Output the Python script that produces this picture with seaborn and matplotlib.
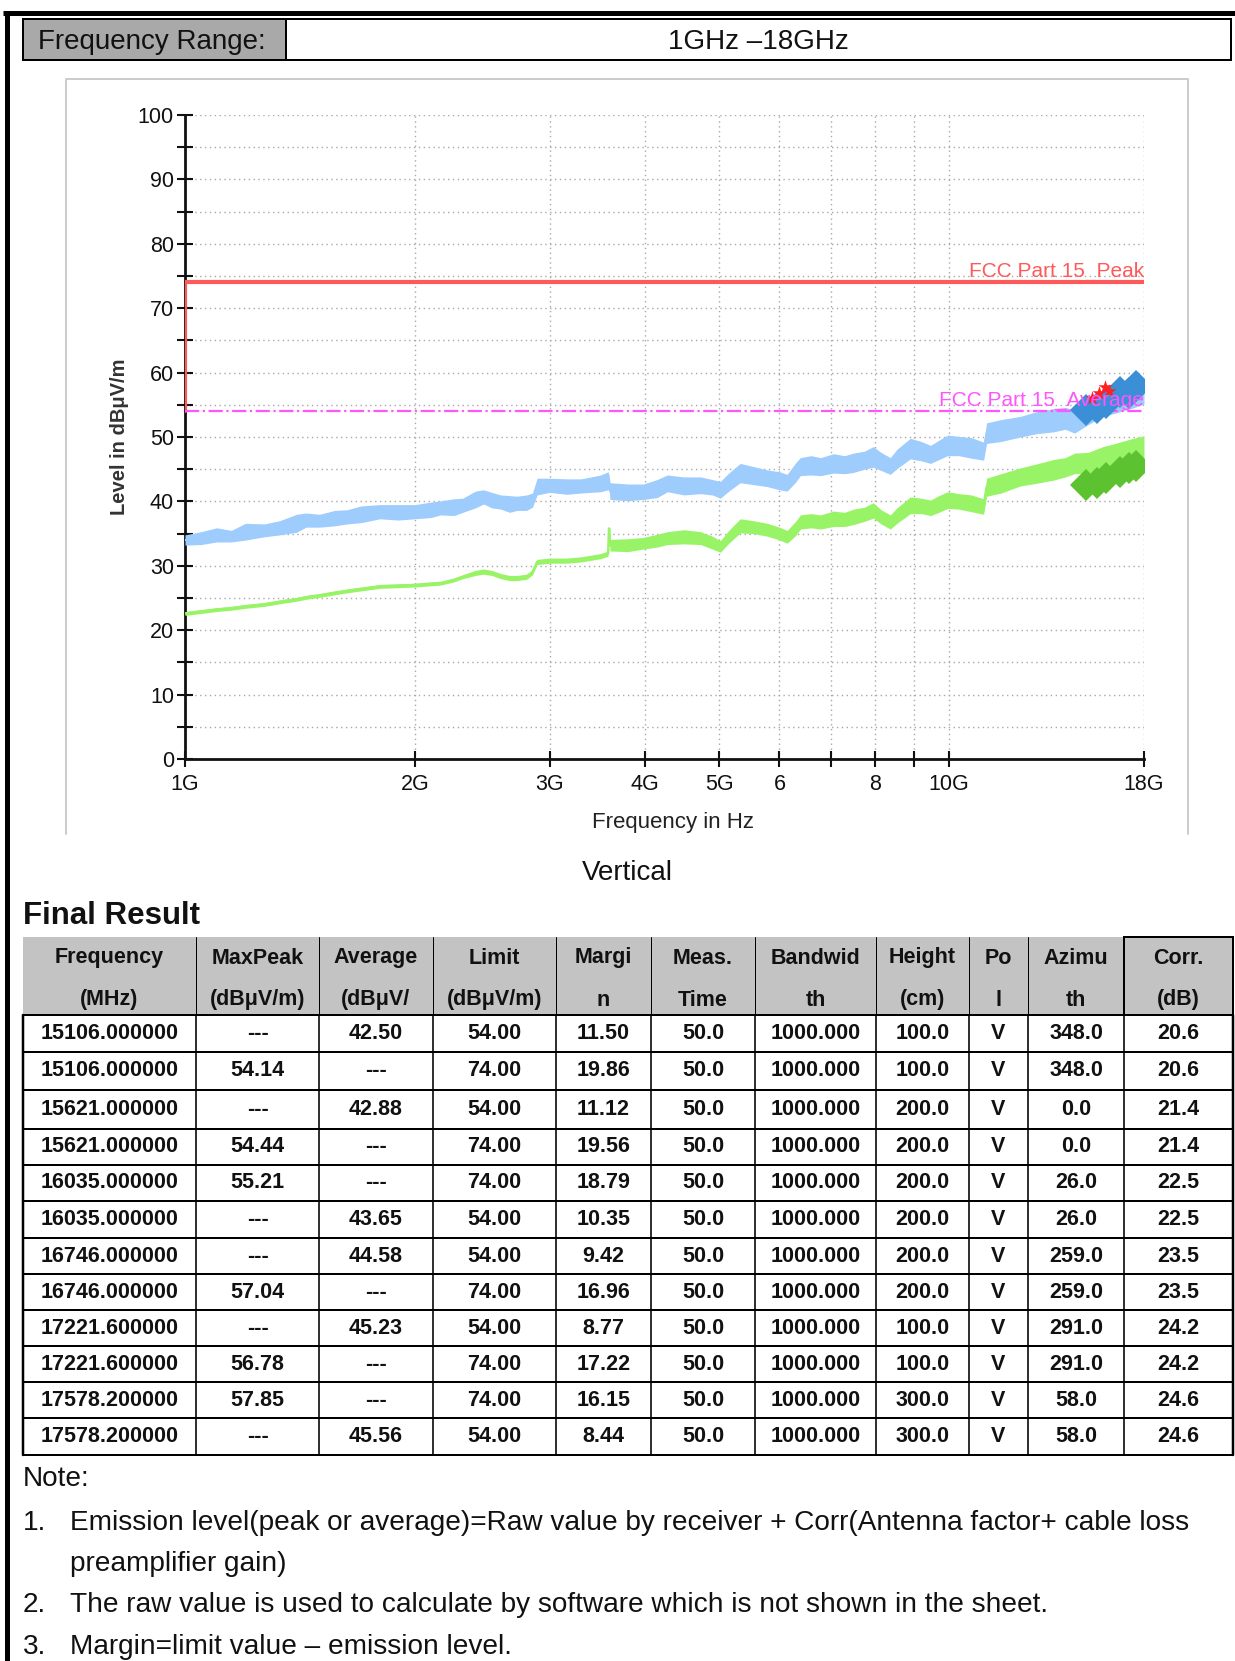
import numpy as np
import pandas as pd
import seaborn as sns
import matplotlib.pyplot as plt
from matplotlib.patches import Rectangle
from matplotlib.ticker import FixedLocator, NullLocator, MultipleLocator

# ==========================================
# data (GHz / dBuV/m)
# ==========================================
scan_ghz = [1.00, 1.05, 1.10, 1.15, 1.20, 1.27, 1.33, 1.40, 1.44, 1.50,
            1.57, 1.63, 1.70, 1.80, 1.90, 2.00, 2.10, 2.16, 2.25, 2.31,
            2.40, 2.46, 2.52, 2.59, 2.66, 2.72, 2.80, 2.85, 2.89, 3.00,
            3.16, 3.30, 3.50, 3.58, 3.59, 3.60, 3.80, 3.98, 4.15, 4.28,
            4.50, 4.73, 4.90, 5.02, 5.15, 5.33, 5.55, 5.78, 6.00, 6.14,
            6.30, 6.39, 6.60, 6.79, 7.06, 7.30, 7.50, 7.75, 7.96, 8.15,
            8.38, 8.55, 8.90, 9.20, 9.46, 9.70, 9.96, 10.3, 10.7, 11.1,
            11.2, 11.7, 12.4, 13.0, 13.7, 14.2, 14.6, 15.2, 15.9, 16.5,
            17.3, 18.0]
peak_trace = [34.0, 34.3, 34.8, 34.6, 35.3, 35.5, 35.9, 36.6, 37.1, 37.0,
              37.4, 37.6, 38.0, 38.4, 38.3, 38.4, 38.7, 39.0, 39.1, 39.4,
              40.3, 40.7, 40.2, 39.9, 39.6, 39.7, 39.8, 40.2, 42.3, 42.5,
              42.3, 42.4, 42.8, 43.2, 43.0, 41.6, 41.4, 41.5, 42.0, 42.8,
              42.4, 42.5, 42.2, 41.8, 43.0, 44.4, 44.0, 43.6, 43.2, 42.9,
              44.5, 45.4, 45.6, 45.4, 45.9, 45.7, 46.0, 46.4, 46.9, 46.2,
              45.5, 46.6, 48.2, 47.8, 47.3, 48.0, 48.7, 48.6, 48.3, 47.8,
              50.6, 51.0, 51.6, 52.2, 52.6, 52.9, 52.4, 53.8, 55.0, 55.6,
              56.2, 57.0]
peak_spread = [0.8, 1.0, 1.1, 0.9, 1.3, 1.0, 1.1, 1.4, 1.1, 1.0,
               1.2, 1.1, 1.3, 1.1, 1.2, 1.1, 1.2, 1.1, 1.3, 1.1,
               1.3, 1.1, 1.2, 1.1, 1.3, 1.1, 1.2, 1.1, 1.3, 1.1,
               1.2, 1.1, 1.3, 1.4, 1.1, 1.3, 1.3, 1.2, 1.4, 1.3,
               1.4, 1.3, 1.2, 1.3, 1.4, 1.5, 1.4, 1.3, 1.4, 1.3,
               1.5, 1.4, 1.5, 1.4, 1.5, 1.4, 1.5, 1.4, 1.6, 1.4,
               1.3, 1.5, 1.6, 1.5, 1.4, 1.5, 1.6, 1.5, 1.6, 1.4,
               1.6, 1.7, 1.6, 1.7, 1.8, 1.7, 1.8, 1.9, 1.8, 1.9,
               1.8, 1.9]
avg_trace = [22.6, 22.9, 23.2, 23.4, 23.7, 24.0, 24.4, 24.8, 25.1, 25.4,
             25.8, 26.1, 26.4, 26.8, 26.9, 27.0, 27.2, 27.3, 27.8, 28.3,
             28.9, 29.1, 28.9, 28.4, 28.1, 28.1, 28.3, 29.0, 30.6, 30.8,
             30.8, 31.0, 31.5, 31.9, 35.8, 33.2, 33.2, 33.5, 33.9, 34.3,
             34.5, 34.3, 33.6, 33.0, 34.5, 36.2, 36.0, 35.6, 35.0, 34.5,
             35.8, 36.8, 37.0, 36.8, 37.3, 37.2, 37.6, 38.0, 38.6, 37.6,
             36.8, 37.8, 39.4, 39.3, 39.0, 39.6, 40.2, 40.0, 39.7, 39.2,
             42.2, 42.8, 43.8, 44.3, 44.9, 45.3, 45.9, 46.0, 46.8, 47.4,
             48.0, 48.5]
avg_spread = [0.3, 0.3, 0.3, 0.3, 0.3, 0.3, 0.3, 0.3, 0.3, 0.3,
              0.3, 0.3, 0.3, 0.3, 0.3, 0.3, 0.3, 0.3, 0.3, 0.3,
              0.4, 0.4, 0.4, 0.4, 0.4, 0.4, 0.4, 0.4, 0.4, 0.4,
              0.4, 0.4, 0.4, 0.4, 0.3, 0.9, 1.0, 0.9, 1.0, 1.0,
              1.1, 1.0, 1.0, 0.9, 1.0, 1.1, 1.0, 1.0, 1.0, 1.0,
              1.1, 1.1, 1.1, 1.1, 1.2, 1.1, 1.2, 1.1, 1.2, 1.1,
              1.1, 1.2, 1.3, 1.2, 1.2, 1.3, 1.3, 1.2, 1.3, 1.2,
              1.4, 1.5, 1.4, 1.5, 1.6, 1.5, 1.6, 1.6, 1.7, 1.6,
              1.7, 1.7]

# limit lines
peak_lim_ghz = [1.0, 1.0, 18.0]
peak_lim = [54.0, 74.0, 74.0]
avg_lim_ghz = [1.0, 18.0]
avg_lim = [54.0, 54.0]

# preliminary peak markers (red stars)
star_ghz = [15.4, 15.7, 16.0, 16.2]
star_lvl = [56.0, 56.8, 57.8, 57.2]

# final result table
col_head = [("Frequency", "(MHz)"), ("MaxPeak", "(dBμV/m)"), ("Average", "(dBμV/"),
            ("Limit", "(dBμV/m)"), ("Margi", "n"), ("Meas.", "Time"),
            ("Bandwid", "th"), ("Height", "(cm)"), ("Po", "l"),
            ("Azimu", "th"), ("Corr.", "(dB)")]
t_freq = ["15106.000000", "15106.000000", "15621.000000", "15621.000000",
          "16035.000000", "16035.000000", "16746.000000", "16746.000000",
          "17221.600000", "17221.600000", "17578.200000", "17578.200000"]
t_peak = ["---", "54.14", "---", "54.44", "55.21", "---",
          "---", "57.04", "---", "56.78", "57.85", "---"]
t_avg = ["42.50", "---", "42.88", "---", "---", "43.65",
         "44.58", "---", "45.23", "---", "---", "45.56"]
t_limit = ["54.00", "74.00", "54.00", "74.00", "74.00", "54.00",
           "54.00", "74.00", "54.00", "74.00", "74.00", "54.00"]
t_margin = ["11.50", "19.86", "11.12", "19.56", "18.79", "10.35",
            "9.42", "16.96", "8.77", "17.22", "16.15", "8.44"]
t_time = ["50.0"] * 12
t_bw = ["1000.000"] * 12
t_height = ["100.0", "100.0", "200.0", "200.0", "200.0", "200.0",
            "200.0", "200.0", "100.0", "100.0", "300.0", "300.0"]
t_pol = ["V"] * 12
t_azi = ["348.0", "348.0", "0.0", "0.0", "26.0", "26.0",
         "259.0", "259.0", "291.0", "291.0", "58.0", "58.0"]
t_corr = ["20.6", "20.6", "21.4", "21.4", "22.5", "22.5",
          "23.5", "23.5", "24.2", "24.2", "24.6", "24.6"]

notes = [("", "Note:"),
         ("1.", "Emission level(peak or average)=Raw value by receiver + Corr(Antenna factor+ cable loss"),
         ("", "preamplifier gain)"),
         ("2.", "The raw value is used to calculate by software which is not shown in the sheet."),
         ("3.", "Margin=limit value – emission level.")]

# ==========================================
# figure
# ==========================================
sns.set_theme(style="white")
plt.rcParams['font.family'] = ['Liberation Sans', 'DejaVu Sans']

W, H = 1235, 1661
fig = plt.figure(figsize=(W / 100, H / 100), dpi=100)
page = fig.add_axes([0, 0, 1, 1])
page.set_xlim(0, W)
page.set_ylim(H, 0)
page.axis("off")

PX = 72 / 100  # pixels -> points
INK = "#111111"

# page frame
page.plot([3, W], [13, 13], color="black", lw=5 * PX, solid_capstyle="butt")
page.plot([7, 7], [11, H], color="black", lw=5 * PX, solid_capstyle="butt")

# frequency range box
page.add_patch(Rectangle((23, 19), 1231 - 23, 41, fill=False, ec="black", lw=2 * PX))
page.add_patch(Rectangle((23, 19), 286 - 23, 41, fc="#a9a9a9", ec="black", lw=2 * PX))
page.text(38, 42, "Frequency Range:", fontsize=20, va="center", ha="left", color=INK)
page.text(758, 42, "1GHz –18GHz", fontsize=20, va="center", ha="center", color=INK)

# chart image frame
page.plot([66, 66, 1188, 1188], [834, 79, 79, 834], color="#cccccc", lw=2 * PX)

# ---- chart ----
ax = fig.add_axes([185 / W, 1 - 759 / H, (1144 - 185) / W, (759 - 115) / H])
ax.set_xscale("log")

pk = pd.DataFrame({"f": scan_ghz, "lvl": peak_trace, "sp": peak_spread})
av = pd.DataFrame({"f": scan_ghz, "lvl": avg_trace, "sp": avg_spread})

BLUE, GREEN = "#9dccfd", "#98f466"
ax.fill_between(pk["f"], pk["lvl"] - pk["sp"], pk["lvl"] + pk["sp"], color=BLUE, lw=0, zorder=3)
sns.lineplot(data=pk, x="f", y="lvl", ax=ax, color=BLUE, lw=1.5, estimator=None, sort=False, zorder=3)
ax.fill_between(av["f"], av["lvl"] - av["sp"], av["lvl"] + av["sp"], color=GREEN, lw=0, zorder=3)
sns.lineplot(data=av, x="f", y="lvl", ax=ax, color=GREEN, lw=1.8, estimator=None, sort=False, zorder=3)

sns.lineplot(x=peak_lim_ghz, y=peak_lim, ax=ax, color="#ff5a5a", lw=3, estimator=None, sort=False, zorder=4)
sns.lineplot(x=avg_lim_ghz, y=avg_lim, ax=ax, color="#ff55ff", lw=1.6, ls="-.", estimator=None, sort=False, zorder=4)

# final measurement points from the table
fin_f = np.array([float(v) for v in t_freq]) / 1000
pk_mask = np.array([v != "---" for v in t_peak])
av_mask = np.array([v != "---" for v in t_avg])
fin_pk = pd.DataFrame({"f": fin_f[pk_mask], "lvl": [float(v) for v in np.array(t_peak)[pk_mask]]})
fin_av = pd.DataFrame({"f": fin_f[av_mask], "lvl": [float(v) for v in np.array(t_avg)[av_mask]]})
sns.lineplot(data=fin_pk, x="f", y="lvl", ax=ax, color="#3a8fd6", lw=10, marker="D", markersize=16,
             markeredgewidth=0, estimator=None, zorder=5)
sns.lineplot(data=fin_av, x="f", y="lvl", ax=ax, color="#5cc22f", lw=10, marker="D", markersize=16,
             markeredgewidth=0, estimator=None, zorder=5)
sns.scatterplot(x=star_ghz, y=star_lvl, ax=ax, marker="*", color="#ff2020", s=110, linewidth=0, zorder=6)

ax.text(18, 74.2, "FCC Part 15_Peak", color="#ff5a5a", fontsize=15, ha="right", va="bottom", zorder=7)
ax.text(18, 54.2, "FCC Part 15_Average", color="#ff55ff", fontsize=15, ha="right", va="bottom", zorder=7)

ax.set_xlim(1, 18)
ax.set_ylim(0, 100)
xt = [1, 2, 3, 4, 5, 6, 7, 8, 9, 10, 18]
xl = ["1G", "2G", "3G", "4G", "5G", "6", "", "8", "", "10G", "18G"]
ax.xaxis.set_major_locator(FixedLocator(xt))
ax.set_xticklabels(xl)
ax.xaxis.set_minor_locator(NullLocator())
ax.yaxis.set_major_locator(MultipleLocator(10))
ax.yaxis.set_minor_locator(MultipleLocator(5))
ax.tick_params(axis="both", which="both", bottom=True, left=True, direction="inout",
               length=12, width=1.5, colors=INK, labelsize=15.5)
ax.tick_params(axis="x", pad=5)
ax.tick_params(axis="y", pad=2)
ax.grid(True, which="both", axis="y", color="#a8a8a8", lw=1, ls=(0, (1, 2.5)))
ax.grid(True, which="major", axis="x", color="#a8a8a8", lw=1, ls=(0, (1, 2.5)))
for s in ["top", "right"]:
    ax.spines[s].set_visible(False)
for s in ["left", "bottom"]:
    ax.spines[s].set_color(INK)
    ax.spines[s].set_linewidth(2)
ax.set_xlabel("Frequency in Hz", fontsize=16, labelpad=8, color="#222222")
ax.xaxis.set_label_coords(0.509, -0.082)
ax.set_ylabel("Level in dBμV/m", fontsize=14.5, fontweight="bold", labelpad=6, color="#333333")
ax.patch.set_alpha(0)

# ---- captions ----
page.text(627, 873, "Vertical", fontsize=20, ha="center", va="center", color=INK)
page.text(23, 916, "Final Result", fontsize=22.5, fontweight="bold", ha="left", va="center", color=INK)

# ---- table ----
col_x = [23, 196, 319, 433, 556, 651, 755, 876, 969, 1028, 1124, 1233]
row_y = [1015, 1052, 1090, 1129, 1165, 1201, 1238, 1274, 1310, 1346, 1382, 1418, 1455]
head_top = 937

page.add_patch(Rectangle((col_x[0], head_top), col_x[-1] - col_x[0], row_y[0] - head_top,
                         fc="#c3c3c3", ec="none"))
for x in col_x[1:-1]:
    page.plot([x, x], [head_top, row_y[0]], color="black", lw=1 * PX)
page.add_patch(Rectangle((col_x[-2], head_top), col_x[-1] - col_x[-2], row_y[0] - head_top,
                         fill=False, ec="black", lw=2 * PX))
for j, (a, b) in enumerate(col_head):
    cx = (col_x[j] + col_x[j + 1]) / 2
    page.text(cx, 958, a, fontsize=15.5, fontweight="bold", ha="center", va="center", color=INK)
    page.text(cx, 1000, b, fontsize=15.5, fontweight="bold", ha="center", va="center", color=INK)

cols = [t_freq, t_peak, t_avg, t_limit, t_margin, t_time, t_bw, t_height, t_pol, t_azi, t_corr]
for y in row_y:
    page.plot([col_x[0], col_x[-1]], [y, y], color="black", lw=2 * PX)
for k, x in enumerate(col_x):
    page.plot([x, x], [row_y[0], row_y[-1]], color="black", lw=(2.5 if k in (0, len(col_x) - 1) else 1.6) * PX)
for i in range(len(t_freq)):
    cy = (row_y[i] + row_y[i + 1]) / 2
    for j, col in enumerate(cols):
        cx = (col_x[j] + col_x[j + 1]) / 2
        page.text(cx, cy, col[i], fontsize=15.5, fontweight="bold", ha="center", va="center", color=INK)

# ---- notes ----
note_y = [1479, 1523, 1564, 1605, 1647]
for (num, txt), y in zip(notes, note_y):
    if num:
        page.text(23, y, num, fontsize=20.2, ha="left", va="center", color=INK)
        page.text(70, y, txt, fontsize=20.2, ha="left", va="center", color=INK)
    elif txt == "Note:":
        page.text(23, y, txt, fontsize=20.2, ha="left", va="center", color=INK)
    else:
        page.text(70, y, txt, fontsize=20.2, ha="left", va="center", color=INK)

fig.savefig("out.png", dpi=100)
